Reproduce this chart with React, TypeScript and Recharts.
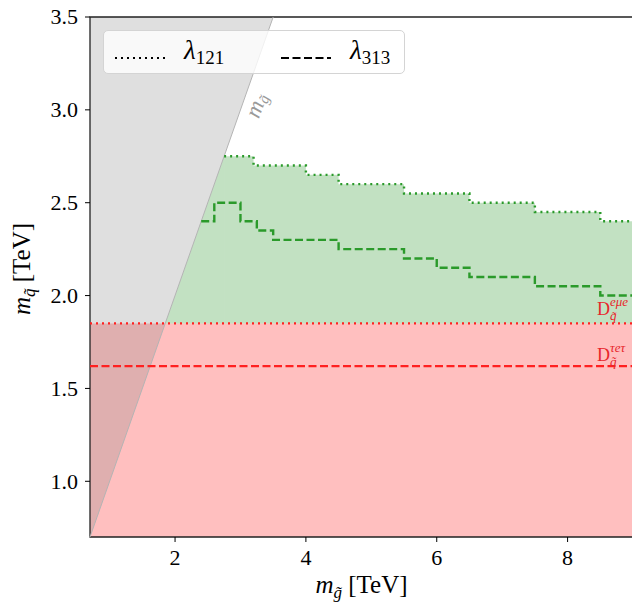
import React from "react";
import {
  ComposedChart,
  Area,
  Line,
  XAxis,
  YAxis,
  ReferenceArea,
  ReferenceLine,
  ReferenceDot,
  Legend,
} from "recharts";

const FONT = "'Liberation Serif', 'DejaVu Serif', serif";

const xTicks = [2, 4, 6, 8];
const yTicks = [1.0, 1.5, 2.0, 2.5, 3.0, 3.5];
const xMin = 0.7;
const xMax = 9;
const yMin = 0.7;
const yMax = 3.5;

// lambda_121 limit (dotted), step edges in m_gluino and m_squark level
const l121X = [2.75, 3.2, 4.0, 4.5, 5.5, 6.5, 7.5, 8.5, 9.0];
const l121Y = [2.75, 2.7, 2.65, 2.6, 2.55, 2.5, 2.45, 2.4, 2.4];

// lambda_313 limit (dashed)
const l313X = [2.4, 2.6, 3.0, 3.25, 3.5, 4.5, 5.5, 6.0, 6.5, 7.5, 8.5, 9.0];
const l313Y = [2.4, 2.5, 2.4, 2.35, 2.3, 2.25, 2.2, 2.15, 2.1, 2.05, 2.0, 2.0];

// direct squark limits
const dEmuE = 1.85;
const dTauETau = 1.62;

const l121 = l121X.map((x, i) => ({ x, y: l121Y[i] }));
const l313 = l313X.map((x, i) => ({ x, y: l313Y[i] }));
const greenStep = l121X.map((x, i) => ({ x, band: [dEmuE, l121Y[i]] }));
// wedge between the m_q = m_g diagonal and the first step
const greenWedge = [
  { x: dEmuE, band: [dEmuE, dEmuE] },
  { x: l121X[0], band: [dEmuE, l121X[0]] },
];
const grayWedge = [
  { x: xMin, band: [xMin, yMax] },
  { x: yMax, band: [yMax, yMax] },
];

const XTick = (props: any) => (
  <text
    x={props.x}
    y={props.y}
    dy="0.72em"
    textAnchor="middle"
    fontFamily={FONT}
    fontSize={22}
    fill="#000"
  >
    {props.payload.value}
  </text>
);

const YTick = (props: any) => (
  <text
    x={props.x}
    y={props.y}
    dy="0.34em"
    textAnchor="end"
    fontFamily={FONT}
    fontSize={22}
    fill="#000"
  >
    {Number(props.payload.value).toFixed(1)}
  </text>
);

const XLabel = (props: any) => {
  const vb = props.viewBox;
  return (
    <text
      x={vb.x + vb.width / 2}
      y={vb.y + 56}
      textAnchor="middle"
      fontFamily={FONT}
      fontSize={25}
      fill="#000"
    >
      <tspan fontStyle="italic">m</tspan>
      <tspan fontStyle="italic" fontSize={17} dy={5}>
        g̃
      </tspan>
      <tspan dy={-5}> [TeV]</tspan>
    </text>
  );
};

const YLabel = (props: any) => {
  const vb = props.viewBox;
  const cx = 30;
  const cy = vb.y + vb.height / 2 - 8;
  return (
    <text
      x={cx}
      y={cy}
      textAnchor="middle"
      transform={`rotate(-90 ${cx} ${cy})`}
      fontFamily={FONT}
      fontSize={25}
      fill="#000"
    >
      <tspan fontStyle="italic">m</tspan>
      <tspan fontStyle="italic" fontSize={17} dy={5}>
        q̃
      </tspan>
      <tspan dy={-5}> [TeV]</tspan>
    </text>
  );
};

const DLabel = (props: any) => {
  const vb = props.viewBox;
  const x = vb.x + vb.width - 36;
  const y = vb.y - props.lift;
  return (
    <g fill="#e8262b" fontFamily={FONT}>
      <text x={x} y={y} fontSize={18}>
        D
      </text>
      <text x={x + 13} y={y - 9} fontSize={13} fontStyle="italic">
        {props.sup}
      </text>
      <text x={x + 13} y={y + 5} fontSize={13} fontStyle="italic">
        q̃
      </text>
    </g>
  );
};

const DiagLabel = (props: any) => {
  const vb = props.viewBox;
  const cx = vb.x + vb.width / 2;
  const cy = vb.y + vb.height / 2;
  return (
    <text
      x={cx}
      y={cy}
      textAnchor="middle"
      dominantBaseline="middle"
      transform={`rotate(-70 ${cx} ${cy})`}
      fontFamily={FONT}
      fontSize={23}
      fill="#9a9a9a"
    >
      <tspan fontStyle="italic">m</tspan>
      <tspan fontStyle="italic" fontSize={15} dy={5}>
        g̃
      </tspan>
    </text>
  );
};

const LegendBox = () => (
  <div
    style={{
      position: "relative",
      width: 302,
      height: 44,
      boxSizing: "border-box",
      border: "1px solid #d4d4d4",
      borderRadius: 5,
      background: "rgba(255,255,255,0.8)",
      fontFamily: FONT,
      color: "#000",
    }}
  >
    <svg
      width={54}
      height={4}
      style={{ position: "absolute", left: 10, top: 25 }}
    >
      <line
        x1={1}
        y1={2}
        x2={54}
        y2={2}
        stroke="#000"
        strokeWidth={2}
        strokeDasharray="2 4"
      />
    </svg>
    <span
      style={{
        position: "absolute",
        left: 80,
        top: 2,
        fontSize: 27,
        fontStyle: "italic",
        lineHeight: "34px",
      }}
    >
      λ
      <span style={{ fontSize: 19, fontStyle: "normal", verticalAlign: -5 }}>
        121
      </span>
    </span>
    <svg
      width={50}
      height={4}
      style={{ position: "absolute", left: 177, top: 25 }}
    >
      <line
        x1={0}
        y1={2}
        x2={50}
        y2={2}
        stroke="#000"
        strokeWidth={2}
        strokeDasharray="8 3.5"
      />
    </svg>
    <span
      style={{
        position: "absolute",
        left: 246,
        top: 2,
        fontSize: 27,
        fontStyle: "italic",
        lineHeight: "34px",
      }}
    >
      λ
      <span style={{ fontSize: 19, fontStyle: "normal", verticalAlign: -5 }}>
        313
      </span>
    </span>
  </div>
);

export default function App() {
  return (
    <div
      style={{
        position: "absolute",
        left: 0,
        top: 0,
        width: 632,
        height: 605,
        overflow: "hidden",
        background: "#fff",
        fontFamily: FONT,
      }}
    >
      <ComposedChart
        width={640}
        height={605}
        margin={{ top: 17, right: 7, bottom: 0, left: 0 }}
        style={{ fontFamily: FONT }}
      >
        <XAxis
          type="number"
          dataKey="x"
          domain={[xMin, xMax]}
          ticks={xTicks}
          allowDataOverflow
          axisLine={false}
          tickLine={{ stroke: "#000" }}
          tickSize={5}
          tickMargin={7}
          height={68}
          tick={<XTick />}
          label={{ content: XLabel }}
        />
        <YAxis
          type="number"
          domain={[yMin, yMax]}
          ticks={yTicks}
          allowDataOverflow
          axisLine={false}
          tickLine={{ stroke: "#000" }}
          tickSize={5}
          tickMargin={7}
          width={90}
          tick={<YTick />}
          label={{ content: YLabel }}
        />
        <ReferenceArea
          x1={xMin}
          x2={xMax}
          y1={yMin}
          y2={dEmuE}
          fill="#ff0000"
          fillOpacity={0.25}
          stroke="none"
        />
        <Area
          data={grayWedge}
          dataKey="band"
          type="linear"
          fill="#808080"
          fillOpacity={0.25}
          stroke="none"
          isAnimationActive={false}
          dot={false}
          activeDot={false}
        />
        <ReferenceLine
          segment={[
            { x: xMin, y: xMin },
            { x: yMax, y: yMax },
          ]}
          stroke="#b4b4b4"
          strokeWidth={1}
        />
        <Area
          data={greenWedge}
          dataKey="band"
          type="linear"
          fill="#008000"
          fillOpacity={0.24}
          stroke="none"
          isAnimationActive={false}
          dot={false}
          activeDot={false}
        />
        <Area
          data={greenStep}
          dataKey="band"
          type="stepAfter"
          fill="#008000"
          fillOpacity={0.24}
          stroke="none"
          isAnimationActive={false}
          dot={false}
          activeDot={false}
        />
        <Line
          data={l121}
          dataKey="y"
          type="stepAfter"
          stroke="#2a9a2a"
          strokeWidth={2.4}
          strokeDasharray="2 4"
          dot={false}
          activeDot={false}
          isAnimationActive={false}
        />
        <Line
          data={l313}
          dataKey="y"
          type="stepAfter"
          stroke="#2a9a2a"
          strokeWidth={2.4}
          strokeDasharray="8 3.5"
          dot={false}
          activeDot={false}
          isAnimationActive={false}
        />
        <ReferenceLine
          y={dEmuE}
          stroke="#ff2020"
          strokeWidth={2.2}
          strokeDasharray="2 4"
          label={<DLabel sup="eμe" lift={8} />}
        />
        <ReferenceLine
          y={dTauETau}
          stroke="#ff2020"
          strokeWidth={2.2}
          strokeDasharray="8 3.5"
          label={<DLabel sup="τeτ" lift={5} />}
        />
        <ReferenceDot
          x={3.27}
          y={3.02}
          r={0}
          fill="none"
          stroke="none"
          label={<DiagLabel />}
        />
        <ReferenceArea
          x1={xMin}
          x2={xMax}
          y1={yMin}
          y2={yMax}
          fill="none"
          stroke="#222"
          strokeWidth={1.3}
        />
        <Legend
          layout="horizontal"
          verticalAlign="middle"
          align="center"
          content={LegendBox}
          wrapperStyle={{ top: 30, left: 103, width: 302, height: 44 }}
        />
      </ComposedChart>
    </div>
  );
}
